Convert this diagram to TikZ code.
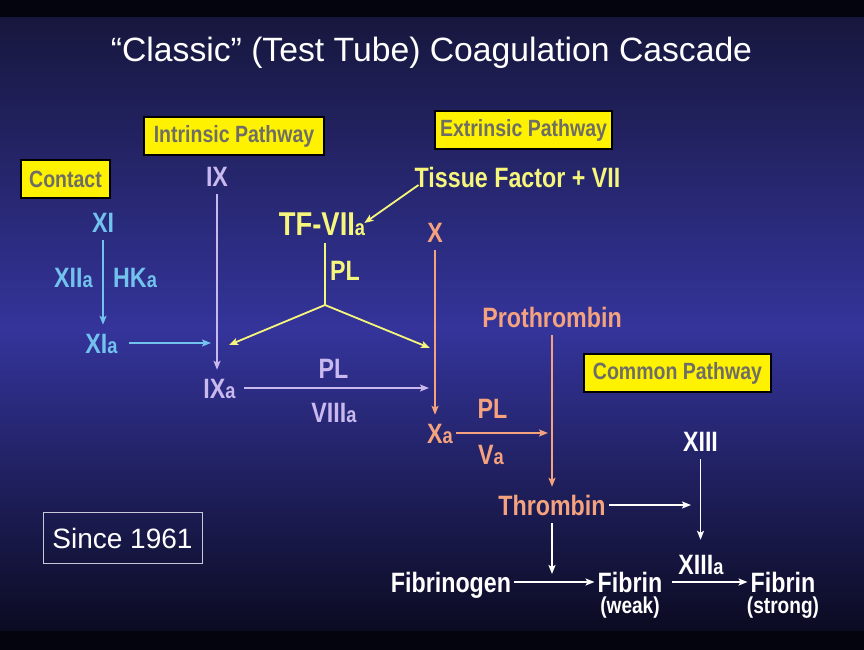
\documentclass[tikz,border=0pt]{standalone}
\usepackage{fontspec}
\setmainfont{Liberation Sans}[FakeStretch=0.83]
\newfontfamily\plainfont{Liberation Sans}
\usetikzlibrary{arrows.meta}

\definecolor{bandc}{HTML}{04040E}
\definecolor{bgtop}{HTML}{17173E}
\definecolor{bgmid}{HTML}{34349B}
\definecolor{bgbot}{HTML}{0B0B22}
\definecolor{tfyel}{HTML}{F6F67C}
\definecolor{lav}{HTML}{C9B9EE}
\definecolor{skyb}{HTML}{72C2EE}
\definecolor{salm}{HTML}{F5A37E}
\definecolor{boxtxt}{HTML}{6E6E66}
\definecolor{sinceb}{HTML}{C8C8D8}

\newcommand{\act}{{\fontsize{22}{22}\selectfont a}}

\tikzset{
  lbl/.style={font=\bfseries\fontsize{28}{28}\selectfont, text height=20pt, text depth=0pt, inner xsep=3pt, inner ysep=8pt},
  small/.style={font=\bfseries\fontsize{23}{23}\selectfont, inner sep=0pt},
  tag/.style={draw=black, line width=1.5pt, fill=yellow, text=boxtxt, font=\bfseries\fontsize{23.5}{23.5}\selectfont, minimum height=38pt, inner sep=0pt},
  conn/.style={line width=1.8pt, -{Stealth[length=9pt,width=7pt,inset=2pt]}},
}

\begin{document}
\begin{tikzpicture}[x=1pt,y=-1pt]
				\useasboundingbox (0,0) rectangle (864,650);
				% background
				\fill[bandc] (0,0) rectangle (864,650);
				\shade[top color=bgtop, bottom color=bgmid] (0,18) rectangle (864,330);
				\shade[top color=bgmid, bottom color=bgbot] (0,330) rectangle (864,630);
				\node[font=\plainfont\fontsize{33.7}{34}\selectfont, text=white, anchor=base, inner sep=0pt] (title) at (431.5,62) {“Classic” (Test Tube) Coagulation Cascade};
				% pathway tags
				\foreach \nm/\x/\y/\w/\txt in {contact/65.5/179/89/Contact, intrinsic/234/136/180/Intrinsic Pathway, extrinsic/523.5/130/177/Extrinsic Pathway, common/677.5/373/187/Common Pathway}
				\node[tag, minimum width=\w pt] (\nm) at (\x,\y) {\txt};
				\node[draw=sinceb, line width=1pt, text=white, font=\plainfont\fontsize{28}{28}\selectfont, minimum width=159pt, minimum height=51pt] (since) at (122.5,538) {Since 1961};
				% contact
				\node[lbl, skyb] (XI) at (103,222) {XI};
				\node[lbl, skyb] (XIa) at (101.5,343) {XI\act};
				\node[lbl, skyb, anchor=east] (XIIa) at (96,277) {XII\act};
				\node[lbl, skyb, anchor=west] (HKa) at (110,277) {HK\act};
				\draw[conn, skyb] (XI) -- (XI |- XIa.north);
				\coordinate (ixin) at (211,340);
				\draw[conn, skyb] ([xshift=8pt]XIa.east) -- (XIa.east -| ixin);
				% intrinsic
				\node[lbl, lav] (IX) at (217,176) {IX};
				\node[lbl, lav] (IXa) at (219.5,388) {IX\act};
				\node[lbl, lav] (PLi) at (333.5,368) {PL};
				\node[lbl, lav] (VIIIa) at (334,412) {VIII\act};
				\draw[conn, lav] (IX) -- (IX |- IXa.north);
				\coordinate (xain) at (429,389);
				\draw[conn, lav] ([xshift=5pt]IXa.east) -- (IXa.east -| xain);
				% extrinsic
				\node[lbl, tfyel] (tissue) at (517.5,177) {Tissue Factor + VII};
				\node[lbl, tfyel, font=\bfseries\fontsize{33}{33}\selectfont, text height=24pt] (tf) at (322,223) {TF-VII\act};
				\node[lbl, tfyel, anchor=west] (PLe) at (327,270) {PL};
				\draw[conn, tfyel] ([shift={(7,8)}]tissue.west) -- ([shift={(-4,0)}]tf.east);
				\coordinate (split) at (325,305);
				\coordinate (tfleft) at (229,345);
				\coordinate (tfright) at (430,348);
				\draw[line width=1.8pt, tfyel] (tf.south -| split) -- (split);
				\draw[conn, tfyel] (split) -- (tfleft);
				\draw[conn, tfyel] (split) -- (tfright);
				% common
				\node[lbl, salm] (X) at (435,232) {X};
				\node[lbl, salm] (Xa) at (440,433) {X\act};
				\node[lbl, salm] (PLc) at (492.5,408) {PL};
				\node[lbl, salm] (Va) at (491,454) {V\act};
				\node[lbl, salm] (prothrombin) at (552,317) {Prothrombin};
				\node[lbl, salm] (thrombin) at (552,505) {Thrombin};
				\draw[conn, salm] (X) -- (X |- Xa.north);
				\coordinate (thrin) at (548,435);
				\draw[conn, salm] (Xa.east) -- (Xa.east -| thrin);
				\draw[conn, salm] (prothrombin) -- (thrombin);
				\node[lbl, white] (XIII) at (700.5,441) {XIII};
				\node[lbl, white] (XIIIa) at (701,564) {XIII\act};
				\node[lbl, white] (fibrinogen) at (451,582) {Fibrinogen};
				\node[lbl, white] (fibrinw) at (630,582) {Fibrin};
				\node[small, white] (weak) at (630,608) {(weak)};
				\node[lbl, white] (fibrins) at (783,582) {Fibrin};
				\node[small, white] (strong) at (783,608) {(strong)};
				\coordinate (xiiiin) at (691,508);
				\coordinate (fibin) at (551,574);
				\draw[conn, white] (thrombin.east) -- (thrombin.east -| xiiiin);
				\draw[conn, white, shorten >=6pt] (XIII) -- (XIII |- XIIIa.north);
				\draw[conn, white] (thrombin) -- (thrombin |- fibin);
				\draw[conn, white] (fibrinogen) -- (fibrinw);
				\draw[conn, white] ([xshift=7pt]fibrinw.east) -- (fibrins);
			\end{tikzpicture}
\end{document}
